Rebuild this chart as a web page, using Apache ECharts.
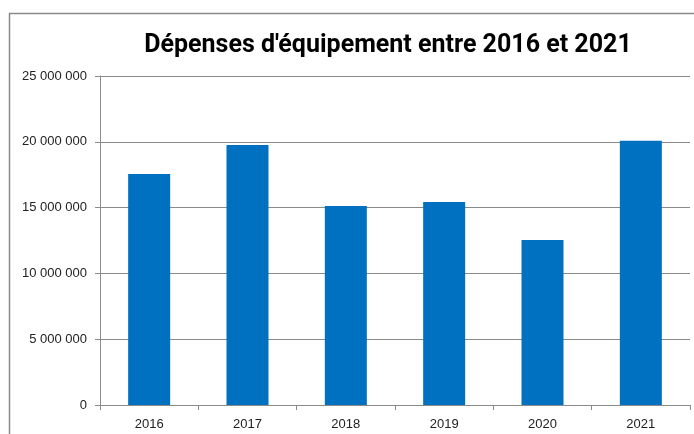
<!DOCTYPE html>
<html>
<head>
<meta charset="utf-8">
<script src="https://cdn.jsdelivr.net/npm/echarts@6/dist/echarts.min.js"></script>
<style>
    html, body { margin: 0; padding: 0; background: #fff; }
    #chart { width: 694px; height: 434px; }
</style>
</head>
<body>
<div id="chart"></div>
<script>
const titleText = "Dépenses d'équipement entre 2016 et 2021";
const years = ['2016', '2017', '2018', '2019', '2020', '2021'];
const depenses = [17550000, 19760000, 15120000, 15430000, 12540000, 20080000];

function formatSpace(v) {
    return String(v).replace(/\B(?=(\d{3})+(?!\d))/g, ' ');
}

const chart = echarts.init(document.getElementById('chart'));
const option = {
    animation: false,
    title: {
        text: titleText,
        left: 383,
        textAlign: 'center',
        top: 28,
        textStyle: {
            fontFamily: 'Roboto',
            fontWeight: 'bold',
            fontSize: 25,
            color: '#000'
        }
    },
    graphic: [
        {
            type: 'polyline',
            shape: { points: [[9.5, 434], [9.5, 13.5], [694, 13.5]] },
            style: { stroke: '#8a8a8a', lineWidth: 1.5, fill: null },
            silent: true
        }
    ],
    grid: { left: 100, right: 4, top: 76, bottom: 29 },
    xAxis: {
        type: 'category',
        data: years,
        axisLine: { lineStyle: { color: '#8a8a8a', width: 1 } },
        axisTick: { show: true, length: 5, lineStyle: { color: '#8a8a8a' } },
        axisLabel: {
            margin: 13,
            fontFamily: 'Liberation Sans',
            fontSize: 13,
            color: '#222'
        }
    },
    yAxis: {
        type: 'value',
        min: 0,
        max: 25000000,
        interval: 5000000,
        axisLine: { show: true, lineStyle: { color: '#8a8a8a', width: 1 } },
        axisTick: { show: true, length: 5, lineStyle: { color: '#8a8a8a' } },
        splitLine: { lineStyle: { color: '#8a8a8a', width: 1 } },
        axisLabel: {
            margin: 13,
            fontFamily: 'Liberation Sans',
            fontSize: 13,
            color: '#222',
            formatter: formatSpace
        }
    },
    series: [
        {
            type: 'bar',
            data: depenses,
            barWidth: 42,
            itemStyle: { color: '#0070C0' }
        }
    ]
};
chart.setOption(option);
</script>
</body>
</html>
